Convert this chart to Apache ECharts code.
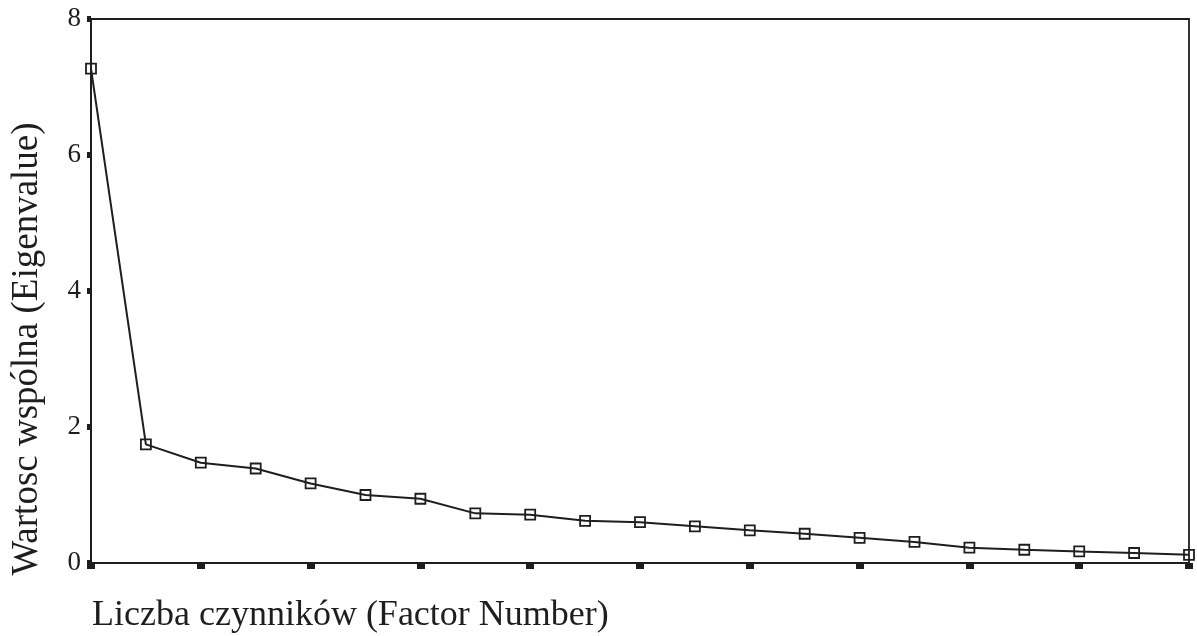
<!DOCTYPE html>
<html>
<head>
<meta charset="utf-8">
<script src="https://cdn.jsdelivr.net/npm/echarts@6/dist/echarts.min.js"></script>
<style>html,body{margin:0;padding:0;background:#fff}#c{width:1197px;height:636px}</style>
</head>
<body>
<div id="c"></div>
<script>
const factors = ['1','2','3','4','5','6','7','8','9','10','11','12','13','14','15','16','17','18','19','20','21'];
const eigenvalues = [7.27, 1.745, 1.475, 1.39, 1.17, 1.0, 0.945, 0.73, 0.71, 0.62, 0.60, 0.54, 0.48, 0.43, 0.37, 0.31, 0.225, 0.195, 0.17, 0.147, 0.12];
const yTicks = [0, 2, 4, 6, 8];
const xName = 'Liczba czynników (Factor Number)';
const yName = 'Wartosc wspólna (Eigenvalue)';

const font = '"Liberation Serif", "DejaVu Serif", serif';
const ink = '#1e1e1e';
const chart = echarts.init(document.getElementById('c'));
chart.setOption({
  animation: false,
  backgroundColor: '#fff',
  grid: {left: 91, right: 8, top: 19, bottom: 73, containLabel: false, outerBoundsMode: 'none',
         show: true, borderColor: ink, borderWidth: 1.8, backgroundColor: 'transparent'},
  xAxis: {
    type: 'category', data: factors, boundaryGap: false,
    axisLine: {lineStyle: {color: ink, width: 2}},
    axisTick: {show: true, interval: 1, length: 6, lineStyle: {color: ink, width: 8}},
    axisLabel: {show: false},
    splitLine: {show: false}
  },
  yAxis: {
    type: 'value', min: yTicks[0], max: yTicks[yTicks.length-1], interval: 2,
    axisLine: {show: true, lineStyle: {color: ink, width: 2}},
    axisTick: {show: true, length: 4, lineStyle: {color: ink, width: 6}},
    axisLabel: {fontFamily: font, fontSize: 27, color: ink, margin: 10},
    splitLine: {show: false}
  },
  graphic: [{
    type: 'text', left: 92, top: 598,
    style: {text: xName, font: '36px ' + font, fill: ink}
  }, {
    type: 'text', x: 27, y: 349, rotation: Math.PI / 2,
    style: {text: yName, font: '37px ' + font, fill: ink, align: 'center', verticalAlign: 'middle'}
  }],
  series: [{
    type: 'line', data: eigenvalues,
    symbol: 'rect', symbolSize: 10, showSymbol: true,
    lineStyle: {color: ink, width: 2},
    itemStyle: {color: 'rgba(255,255,255,0)', borderColor: ink, borderWidth: 1.8}
  }]
});
</script>
</body>
</html>
